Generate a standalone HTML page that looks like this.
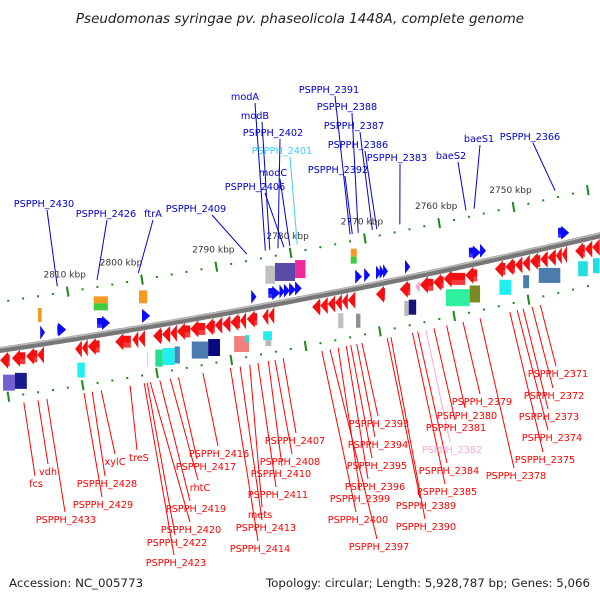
<!DOCTYPE html>
<html><head><meta charset="utf-8"><style>
html,body{margin:0;padding:0;background:#fff;}
svg{display:block;font-family:"DejaVu Sans","Liberation Sans",sans-serif;}
</style></head><body>
<svg id="map" width="600" height="600" viewBox="0 0 600 600">
<text x="300" y="23" text-anchor="middle" font-size="13.5" font-style="italic" fill="#222">Pseudomonas syringae pv. phaseolicola 1448A, complete genome</text>
<text x="9" y="587" font-size="11.8" fill="#222">Accession: NC_005773</text>
<text x="590" y="587" text-anchor="end" font-size="11.8" fill="#222">Topology: circular; Length: 5,928,787 bp; Genes: 5,066</text>
<g id="g"></g>
</svg>
<script>
// ---- data ----
const scaleKbp = [2810, 2800, 2790, 2780, 2770, 2760, 2750];
const fwdStart = [2813.7,2811.4,2806.05,2800,2785.3,2783.0,2781.5,2780.9,2780.2,2779.4,2771.3,2770.1,2768.5,2768.0,2767.55,2764.6,2756.0,2754.5,2744.0];
const fwdEnd   = [2813.05,2810.2,2804.3,2798.9,2784.6,2781.4,2780.8,2780.1,2779.3,2778.5,2770.4,2769.3,2767.8,2767.4,2766.9,2763.9,2754.4,2753.7,2742.5];
const revStart = [2819.1,2817.5,2815.6,2814.1,2809.0,2808.1,2807.3,2803.6,2801.3,2800.5,2798.5,2797.3,2796.2,2795.3,2793.5,2791.5,2790.2,2789.2,2788.1,2786.8,2785.9,2783.8,2783.0,2777.1,2776.0,2775.0,2774.0,2773.1,2772.3,2768.5,2765.3,2762.6,2760.8,2759.4,2756.5,2752.5,2751.1,2749.8,2748.8,2747.8,2746.4,2745.4,2744.3,2743.5,2741.7,2740.4,2739.4];
const revEnd   = [2817.8,2815.7,2814.1,2813.2,2808.1,2807.3,2805.7,2801.5,2800.5,2799.6,2797.3,2796.2,2795.3,2793.5,2791.5,2790.2,2789.2,2788.1,2786.8,2786.0,2784.5,2783.0,2782.2,2776.0,2775.0,2774.0,2773.1,2772.3,2771.3,2767.3,2763.9,2760.8,2759.4,2756.5,2754.9,2751.1,2749.8,2748.8,2747.8,2746.4,2745.4,2744.3,2743.5,2742.8,2740.4,2739.4,2738.4];
const pinkStart = [2763.25], pinkEnd = [2762.6];
const boxStart = [2814.0,2806.5,2806.5,2800.4,2783.4,2782.1,2779.4,2771.9,2771.9,2799.2,2798.2,2797.2,2795.6,2793.3,2791.1,2787.6,2786.1,2785.6,2783.7,2783.4,2773.6,2771.2,2764.7,2764.1,2759.1,2755.9,2751.9,2748.7,2746.6,2741.3,2739.3,2818.7,2817.1,2808.7];
const boxEnd   = [2813.5,2804.6,2804.6,2799.3,2782.1,2779.4,2778.0,2771.1,2771.1,2799.3,2797.2,2795.6,2794.9,2791.1,2789.5,2785.6,2785.6,2785.6,2782.5,2782.6,2772.9,2770.6,2764.1,2763.1,2755.9,2754.5,2750.3,2747.9,2743.7,2740.0,2738.4,2817.1,2815.5,2807.7];
const boxTop   = [-36,-38,-31,-37,-39,-39,-39,-40,-32,26,25,25,25,24,24,26,26,33,26,35,22,26,23,23,22,22,23,23,21,22,22,26,26,25];
const boxBot   = [-22,-31,-24,-24,-21,-21,-21,-32,-25,40,42,42,42,41,41,42,33,40,35,41,37,40,38,38,39,39,38,36,36,37,37,42,42,40];
const boxColor = ["#f59a1e","#f59a1e","#3ccc3c","#f59a1e","#c0c0c0","#5a4aa8","#f0289a","#f59a1e","#3ccc3c","#c0c0c0","#22e090","#22f0f0","#4a86c0","#4a7cb0","#0a0a80","#f08080","#22e0e0","#b8b8b8","#22f0f0","#b8b8b8","#c0c0c0","#909090","#b8b8b8","#14147a","#30f0a0","#7a8a20","#22f0f0","#4a7cb0","#4a7cb0","#22e0e0","#22e0e0","#7060d0","#1a1a90","#22f0f0"];
const topNames = ["PSPPH_2430","PSPPH_2426","ftrA","PSPPH_2409","modA","modB","PSPPH_2402","PSPPH_2401","modC","PSPPH_2406","PSPPH_2391","PSPPH_2388","PSPPH_2387","PSPPH_2386","PSPPH_2383","PSPPH_2392","baeS1","baeS2","PSPPH_2366"];
const topGene  = [2811.4,2806.05,2800.5,2785.9,2783.4,2782.8,2781.7,2779.1,2780.1,2780.9,2772.0,2770.9,2769.0,2768.4,2765.3,2771.7,2755.3,2756.4,2744.4];
const topTextX = [44,106,153,196,245,255,273,282,273,255,329,347,354,358,397,338,479,451,530];
const topTextY = [207,217,217,212,100,119,136,154,176,190,93,110,129,148,161,173,142,159,140];
const topEndX  = [47,107,153,212,255,262,280,290,280,265,335,352,360,365,400,345,480,458,533];
const topColor = ["#00c","#00c","#00c","#00c","#00c","#00c","#00c","#3ad0ff","#00c","#00c","#00c","#00c","#00c","#00c","#00c","#00c","#00c","#00c","#00c"];
const botNames = ["fcs","vdh","PSPPH_2433","PSPPH_2429","PSPPH_2428","xylC","treS","PSPPH_2416","PSPPH_2417","rhtC","PSPPH_2419","PSPPH_2420","PSPPH_2422","PSPPH_2423","PSPPH_2407","PSPPH_2408","PSPPH_2410","PSPPH_2411","mets","PSPPH_2413","PSPPH_2414","PSPPH_2400","PSPPH_2397","PSPPH_2399","PSPPH_2396","PSPPH_2395","PSPPH_2394","PSPPH_2393","PSPPH_2389","PSPPH_2390","PSPPH_2385","PSPPH_2384","PSPPH_2382","PSPPH_2381","PSPPH_2380","PSPPH_2379","PSPPH_2378","PSPPH_2375","PSPPH_2374","PSPPH_2373","PSPPH_2372","PSPPH_2371"];
const botGene  = [2815.9,2814.0,2812.8,2807.8,2806.7,2805.5,2801.6,2791.8,2795.1,2796.2,2797.6,2798.9,2799.3,2799.7,2781.0,2782.1,2783.0,2784.4,2785.5,2786.8,2788.1,2775.8,2774.7,2773.6,2772.5,2771.9,2771.1,2770.4,2767.0,2766.5,2763.6,2762.9,2761.8,2760.7,2759.0,2756.8,2754.5,2750.5,2749.5,2748.7,2747.5,2746.4];
const botTextX = [36,48,66,103,107,115,139,219,206,200,196,191,177,176,295,290,281,278,260,266,260,358,379,360,375,377,378,379,426,426,447,449,452,456,467,482,516,545,552,549,554,558];
const botTextY = [487,475,523,508,487,465,461,457,470,491,512,533,546,566,444,465,477,498,518,531,552,523,550,502,490,469,448,427,509,530,495,474,453,431,419,405,479,463,441,420,399,377];
const botEndX  = [35,48,65,102,105,115,137,218,197,198,190,190,175,174,296,292,282,276,262,262,258,356,377,360,368,372,375,378,420,425,445,447,450,455,465,480,514,543,548,548,553,556];
const botColor = botNames.map(n => n === "PSPPH_2382" ? "#f7a8d8" : "#f00");

// ---- axis functions ----
const NS = "http://www.w3.org/2000/svg";
const g = document.getElementById("g");
function xOf(k){ return 142 - (k - 2800) * 7.43; }
function bb(x){ return 350 - 0.148 * x - 7.2e-5 * x * x; }
function el(tag, attrs, parent){
  const e = document.createElementNS(NS, tag);
  for (const a in attrs) e.setAttribute(a, attrs[a]);
  (parent || g).appendChild(e);
  return e;
}

// backbone
let pts = [];
for (let x = -5; x <= 605; x += 5) pts.push(x + "," + bb(x).toFixed(1));
const bbLine = el("polyline", {points: pts.join(" "), fill: "none", stroke: "#777", "stroke-width": 6});


const bbHi = el("polyline", {points: pts.map(p => { const [a,b] = p.split(","); return a + "," + (b - 2); }).join(" "), fill: "none", stroke: "#bbb", "stroke-width": 1.5});



// scale tracks
for (let k = 2738; k <= 2820; k += 2) {
  const major = (k % 10 === 0);
  [[-48, 0], [48, 15]].forEach(([off, dx]) => {
    const x = xOf(k) + dx, y = bb(x) + off;
    if (x < -2 || x > 602) return;
    const t = major ? el("line", {x1: x - 0.8, y1: y - 5, x2: x + 0.8, y2: y + 5, stroke: "#1a8a1a", "stroke-width": 2})
                    : el("rect", {x: x - 1, y: y - 1, width: 2, height: 2, fill: "#1a8a1a"});
    
    
  });
}
scaleKbp.forEach(k => {
  const xd = xOf(k);
  const lx = (k === 2800) ? xd - 21 : xd - 3;
  const t = el("text", {x: lx, y: bb(xd) - 62, "text-anchor": "middle", "font-size": 9, fill: "#333"});
  t.textContent = k + " kbp";
  
  
});

// genes
function arrow(xa, xb, yc, h, dir, color, name){
  const x1 = Math.min(xa, xb), x2 = Math.max(xa, xb);
  const len = x2 - x1, head = Math.min(len, 8), hh = h / 2;
  let d;
  if (dir > 0) d = `M${x1},${yc-hh*0.7} L${x2-head},${yc-hh*0.7} L${x2-head},${yc-hh} L${x2},${yc} L${x2-head},${yc+hh} L${x2-head},${yc+hh*0.7} L${x1},${yc+hh*0.7} Z`;
  else d = `M${x2},${yc-hh*0.7} L${x1+head},${yc-hh*0.7} L${x1+head},${yc-hh} L${x1},${yc} L${x1+head},${yc+hh} L${x1+head},${yc+hh*0.7} L${x2},${yc+hh*0.7} Z`;
  const p = el("path", {d: d, fill: color});
  
  
  const s = el("rect", {x: x1 + (dir > 0 ? 0 : head), y: yc + 1, width: Math.max(0, len - head), height: hh * 0.7 - 1, fill: "#fff", opacity: 0.18});
  
  
}
fwdStart.forEach((k, i) => {
  const xa = xOf(k), xb = xOf(fwdEnd[i]), xm = (xa + xb) / 2;
  arrow(xa, xb, bb(xm) - 11, 14, 1, "#0a0aff", "forward-gene");
});
revStart.forEach((k, i) => {
  const xa = xOf(k), xb = xOf(revEnd[i]), xm = (xa + xb) / 2;
  arrow(xa, xb, bb(xm) + 11, 17, -1, "#f41010", "reverse-gene");
});
pinkStart.forEach((k, i) => {
  const xa = xOf(k), xb = xOf(pinkEnd[i]), xm = (xa + xb) / 2;
  arrow(xa, xb, bb(xm) + 11, 12, -1, "#f7a8d8", "reverse-gene-pseudo");
});
boxStart.forEach((k, i) => {
  const xa = xOf(k), xb = xOf(boxEnd[i]), xm = (xa + xb) / 2, b = bb(xm);
  const r = el("rect", {x: Math.min(xa, xb), y: b + boxTop[i], width: Math.abs(xb - xa), height: boxBot[i] - boxTop[i], fill: boxColor[i]});
  
  
});

// labels
topNames.forEach((n, i) => {
  const gx = xOf(topGene[i]);
  const l = el("line", {x1: topEndX[i], y1: topTextY[i] + 3, x2: gx, y2: bb(gx) - 55, stroke: topColor[i], "stroke-width": 1});
  
  
  const t = el("text", {x: topTextX[i], y: topTextY[i], "text-anchor": "middle", "font-size": 9.7, fill: topColor[i]});
  t.textContent = n;
  
  
});
botNames.forEach((n, i) => {
  const gx = xOf(botGene[i]);
  const l = el("line", {x1: gx, y1: bb(gx) + 56, x2: botEndX[i], y2: botTextY[i] - 11, stroke: botColor[i], "stroke-width": 1});
  
  
  const t = el("text", {x: botTextX[i], y: botTextY[i], "text-anchor": "middle", "font-size": 9.7, fill: botColor[i]});
  t.textContent = n;
  
  
});
</script>
</body></html>
